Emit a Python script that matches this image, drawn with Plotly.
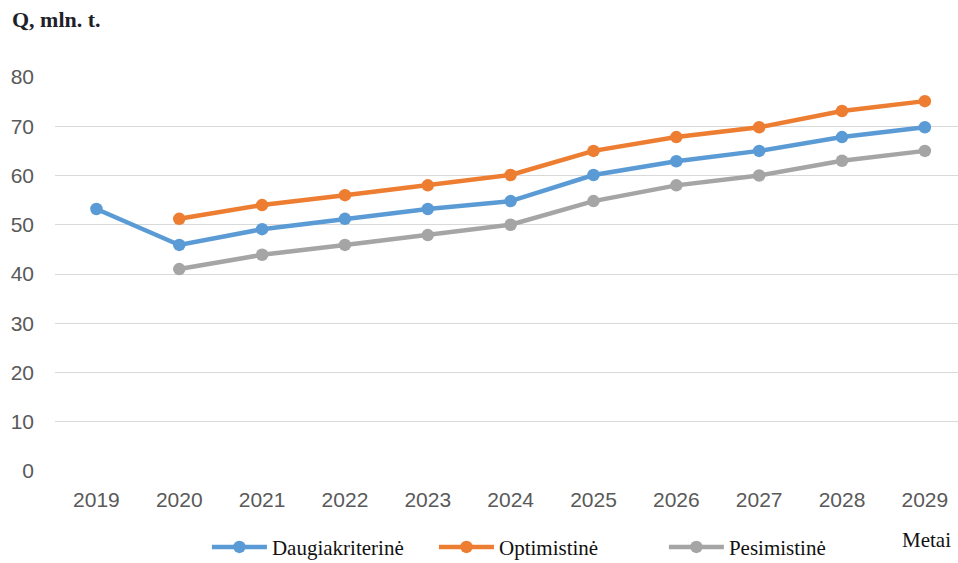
import plotly.graph_objects as go

years = ["2019", "2020", "2021", "2022", "2023", "2024", "2025", "2026", "2027", "2028", "2029"]
daugiakriterine = [53.2, 45.9, 49.1, 51.2, 53.2, 54.8, 60.1, 62.9, 65.0, 67.8, 69.8]
optimistine = [None, 51.2, 54.0, 56.0, 58.0, 60.1, 65.0, 67.8, 69.8, 73.1, 75.1]
pesimistine = [None, 41.0, 43.9, 45.9, 47.9, 50.0, 54.8, 58.0, 60.0, 63.0, 65.0]
y_ticks = [0, 10, 20, 30, 40, 50, 60, 70, 80]

series = [
    ("Daugiakriterinė", daugiakriterine, "#5B9BD5", "legend", 0.216),
    ("Optimistinė", optimistine, "#ED7D31", "legend2", 0.453),
    ("Pesimistinė", pesimistine, "#A5A5A5", "legend3", 0.693),
]

xpos = list(range(len(years)))
fig = go.Figure()
legend_layouts = {}
for name, vals, color, leg, lx in series:
    fig.add_trace(go.Scatter(
        x=xpos, y=vals, name=name, mode="lines+markers",
        line=dict(color=color, width=4.5),
        marker=dict(color=color, size=12.5),
        connectgaps=False, legend=leg,
    ))
    legend_layouts[leg] = dict(
        orientation="h", x=lx, xref="container", xanchor="left",
        y=0.028, yref="container", yanchor="middle",
        font=dict(family="Liberation Serif", size=21, color="#111111"),
        itemwidth=55, bgcolor="rgba(0,0,0,0)",
    )

fig.update_layout(
    width=958, height=563,
    margin=dict(l=55, r=0, t=77, b=92, autoexpand=False),
    paper_bgcolor="white", plot_bgcolor="white",
    showlegend=True,
    xaxis=dict(
        range=[-0.5, 10.4], tickmode="array", tickvals=xpos, ticktext=years,
        showgrid=False, zeroline=False, showline=False,
        tickfont=dict(family="Liberation Sans", size=21, color="#595959"),
        ticklabelstandoff=14,
    ),
    yaxis=dict(
        range=[0, 80], tickmode="array", tickvals=y_ticks,
        showgrid=True, gridcolor="#D9D9D9", gridwidth=1.3,
        zeroline=False, showline=False,
        tickfont=dict(family="Liberation Sans", size=21, color="#595959"),
        ticklabelstandoff=20,
    ),
    annotations=[
        dict(text="<b>Q, mln. t.</b>", xref="paper", yref="paper", x=-0.050, y=1.145,
             xanchor="left", yanchor="middle", showarrow=False,
             font=dict(family="Liberation Serif", size=22, color="#1F1F2A")),
        dict(text="Metai", xref="paper", x=0.995, yref="paper", y=-0.175,
             showarrow=False, xanchor="right", yanchor="middle",
             font=dict(family="Liberation Serif", size=21, color="#111111")),
    ],
    **legend_layouts,
)

fig.write_html("out.html", config={"displayModeBar": False},
               post_script="document.body.style.margin='0px';")
